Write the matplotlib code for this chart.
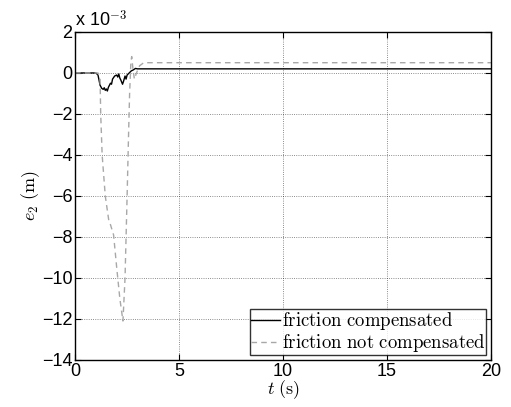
import numpy as np
import matplotlib
matplotlib.use('Agg')
import matplotlib.pyplot as plt

plt.rcParams['font.family'] = ['Liberation Sans', 'DejaVu Sans']
plt.rcParams['mathtext.fontset'] = 'cm'

# datos (e2 en unidades de 1e-3 m)
t_comp = [0, 1.0, 1.1, 1.2, 1.28, 1.35, 1.4, 1.45, 1.5, 1.55, 1.6, 1.7, 1.75, 1.8,
          1.9, 2.0, 2.05, 2.1, 2.15, 2.2, 2.28, 2.33, 2.4, 2.45, 2.5, 2.6, 2.7,
          2.8, 2.9, 3.0, 20]
e_comp = [0, 0, -0.1, -0.6, -0.75, -0.8, -0.72, -0.85, -0.78, -0.88, -0.7, -0.5,
          -0.55, -0.3, -0.15, -0.1, -0.2, -0.05, -0.25, -0.35, -0.55, -0.4, -0.15,
          -0.3, -0.1, 0.0, 0.1, 0.15, 0.22, 0.2, 0.2]

t_nocomp = [0, 1.1, 1.2, 1.23, 1.3, 1.45, 1.62, 1.7, 1.85, 2.0, 2.15, 2.3, 2.4,
            2.5, 2.57, 2.62, 2.68, 2.72, 2.78, 2.85, 2.95, 3.1, 3.3, 4, 20]
e_nocomp = [0, 0, -0.3, -2, -4, -6, -7.2, -7.4, -7.9, -9.5, -11, -12.1, -10,
            -6, -3, -1, 0.5, 0.8, 0.2, -0.3, 0, 0.35, 0.5, 0.5, 0.5]

fig = plt.figure(figsize=(5.11, 4.07), dpi=100)
ax = fig.add_axes([0.147, 0.1155, 0.814, 0.806])

ax.plot(t_comp, e_comp, color='black', lw=1.0, label=r'$\mathrm{friction\ compensated}$')
ax.plot(t_nocomp, e_nocomp, color='#a8a8a8', lw=1.0, ls=(0, (4, 3)),
        label=r'$\mathrm{friction\ not\ compensated}$')

ax.set_xlim(0, 20)
ax.set_ylim(-14, 2)
ax.set_xticks([0, 5, 10, 15, 20])
ax.set_yticks(np.arange(-14, 3, 2))
ax.tick_params(direction='in', labelsize=13, top=True, right=True, length=4, pad=2)
ax.grid(True, color='black', ls=':', lw=0.6, alpha=0.6)
for s in ax.spines.values():
    s.set_linewidth(1.0)

ax.set_xlabel(r'$t\ \mathrm{(s)}$', fontsize=13, labelpad=-1)
ax.set_ylabel(r'$e_2\ \mathrm{(m)}$', fontsize=13, labelpad=0)
ax.text(0.0, 1.005, r'x 10$^{-3}$', transform=ax.transAxes, fontsize=13,
        ha='left', va='bottom')

leg = ax.legend(loc='lower right', fontsize=13.5, frameon=True, fancybox=False,
                edgecolor='black', borderpad=0.05, labelspacing=0.0,
                handlelength=1.55, handletextpad=0.1, borderaxespad=0.25)
leg.get_frame().set_linewidth(1.0)

plt.savefig('out.png', dpi=100)
